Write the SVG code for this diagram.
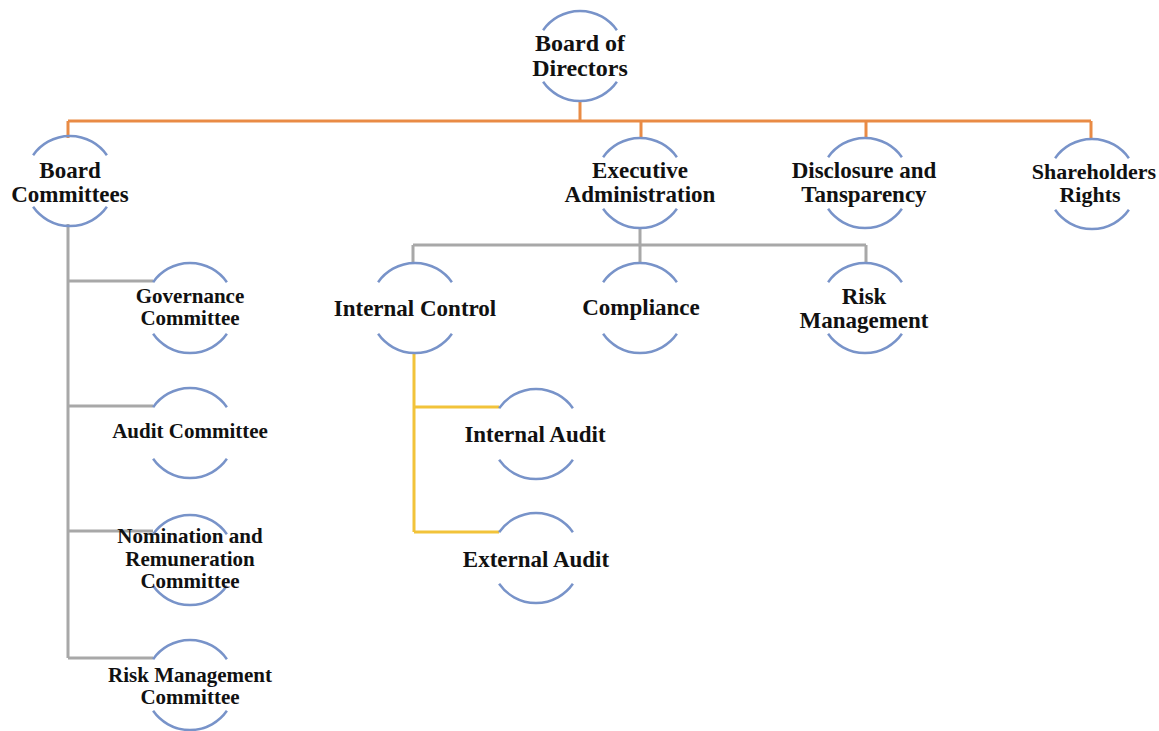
<svg xmlns="http://www.w3.org/2000/svg" xmlns:xlink="http://www.w3.org/1999/xlink" width="1159" height="731" viewBox="0 0 1159 731">
<style>
.arc{fill:none;stroke:#7893c9;stroke-width:2.5}
.t{font-family:"Liberation Serif","Times New Roman",serif;font-weight:bold;fill:#111;text-anchor:middle}
.s24{font-size:24px}.s23{font-size:23px}.s22{font-size:22px}.s21{font-size:21px}
.or{fill:none;stroke:#e98b45;stroke-width:3}
.gr{fill:none;stroke:#a8a8a8;stroke-width:3}
.ye{fill:none;stroke:#f2c33a;stroke-width:3}
</style>
<defs>
<path id="arcs" d="M-36.9,-25.8 A45,45 0 0 1 36.9,-25.8 M36.9,25.8 A45,45 0 0 1 -36.9,25.8"/>
</defs>
<rect width="1159" height="731" fill="#fff"/>
<g id="connectors">
<path class="or" d="M580,100 V121 M68,121 H1091 M68,121 V138 M641,121 V139 M866,121 V139 M1091,121 V139"/>
<path class="gr" d="M68,224 V658 M68,281 H153 M68,406 H153 M68,531 H153 M68,658 H153"/>
<path class="gr" d="M640,228 V245 M413,245 H866 M413,245 V263 M640,245 V263 M866,245 V263"/>
<path class="ye" d="M414,353 V532 M414,407 H499 M414,532 H499"/>
</g>
<g id="board-of-directors"><use href="#arcs" class="arc" x="580" y="56"/><text class="t s24" x="580" y="51">Board of</text><text class="t s24" x="580" y="76">Directors</text></g>
<g id="board-committees"><use href="#arcs" class="arc" x="70" y="181"/><text class="t s23" x="70" y="178">Board</text><text class="t s23" x="70" y="202">Committees</text></g>
<g id="executive-administration"><use href="#arcs" class="arc" x="640" y="183"/><text class="t s23" x="640" y="178">Executive</text><text class="t s23" x="640" y="202">Administration</text></g>
<g id="disclosure-transparency"><use href="#arcs" class="arc" x="865" y="183"/><text class="t s23" x="864" y="178">Disclosure and</text><text class="t s23" x="864" y="202">Tansparency</text></g>
<g id="shareholders-rights"><use href="#arcs" class="arc" x="1092" y="184"/><text class="t s22" x="1094" y="179">Shareholders</text><text class="t s22" x="1090" y="202">Rights</text></g>
<g id="internal-control"><use href="#arcs" class="arc" x="415" y="308"/><text class="t s23" x="415" y="316">Internal Control</text></g>
<g id="compliance"><use href="#arcs" class="arc" x="640" y="308"/><text class="t s23" x="641" y="315">Compliance</text></g>
<g id="risk-management"><use href="#arcs" class="arc" x="865" y="308"/><text class="t s23" x="864" y="304">Risk</text><text class="t s23" x="864" y="328">Management</text></g>
<g id="governance-committee"><use href="#arcs" class="arc" x="190" y="308"/><text class="t s21" x="190" y="303">Governance</text><text class="t s21" x="190" y="325">Committee</text></g>
<g id="audit-committee"><use href="#arcs" class="arc" x="190" y="433"/><text class="t s21" x="190" y="438">Audit Committee</text></g>
<g id="nomination-remuneration-committee"><use href="#arcs" class="arc" x="190" y="560"/><text class="t s21" x="190" y="543">Nomination and</text><text class="t s21" x="190" y="566">Remuneration</text><text class="t s21" x="190" y="588">Committee</text></g>
<g id="risk-management-committee"><use href="#arcs" class="arc" x="190" y="685"/><text class="t s21" x="190" y="682">Risk Management</text><text class="t s21" x="190" y="704">Committee</text></g>
<g id="internal-audit"><use href="#arcs" class="arc" x="536" y="434"/><text class="t s23" x="535" y="442">Internal Audit</text></g>
<g id="external-audit"><use href="#arcs" class="arc" x="536" y="558"/><text class="t s23" x="536" y="567">External Audit</text></g>
</svg>
